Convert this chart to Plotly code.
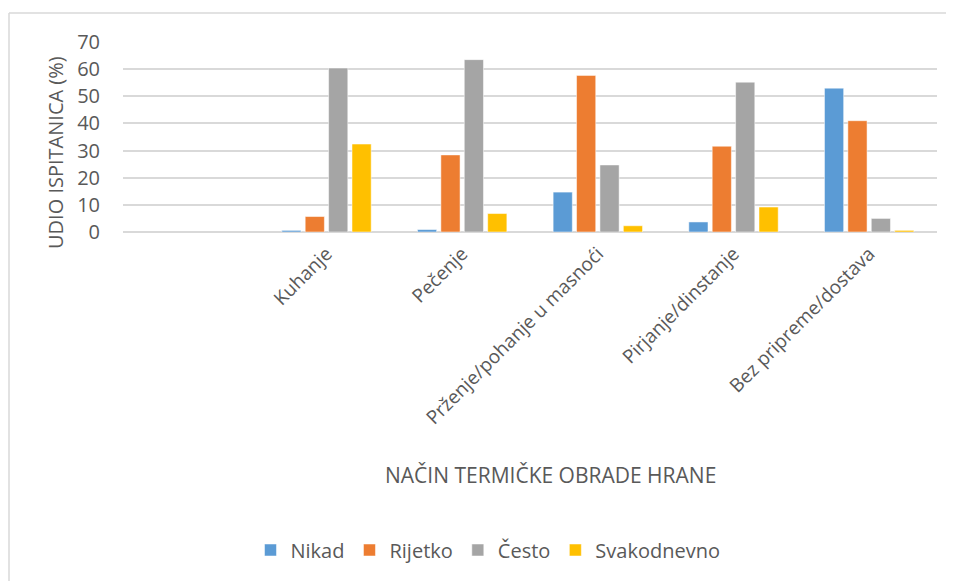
import plotly.graph_objects as go

categories = [" ", "Kuhanje", "Pečenje", "Prženje/pohanje u masnoći", "Pirjanje/dinstanje", "Bez pripreme/dostava"]
nikad = [None, 0.6, 0.9, 14.7, 3.7, 53.0]
rijetko = [None, 5.7, 28.4, 57.7, 31.6, 41.0]
cesto = [None, 60.4, 63.5, 24.7, 55.2, 5.0]
svakodnevno = [None, 32.4, 6.8, 2.3, 9.2, 0.6]
series_names = ["Nikad", "Rijetko", "Često", "Svakodnevno"]
colors = ["#5b9bd5", "#ed7d31", "#a5a5a5", "#ffc000"]
y_ticks = [0, 10, 20, 30, 40, 50, 60, 70]

FONT = "Open Sans"
TXT = "#595959"

fig = go.Figure()
for name, vals, col in zip(series_names, [nikad, rijetko, cesto, svakodnevno], colors):
    fig.add_trace(go.Bar(x=categories, y=vals, name=name, marker=dict(color=col, line=dict(color="white", width=0.5))))

OFF = 8  # page body offset
W, H = 954 - OFF, 581 - OFF
L, R, T, B = 123 - OFF, 17, 42 - OFF, 349
pw, ph = W - L - R, H - T - B

def px(x):
    return (x - OFF - L) / pw

def py(y):
    return (H - B - (y - OFF)) / ph

fig.update_layout(
    width=W, height=H,
    margin=dict(l=L, r=R, t=T, b=B, autoexpand=False),
    paper_bgcolor="white", plot_bgcolor="white",
    barmode="group", bargap=0.31, bargroupgap=0.18,
    font=dict(family=FONT, color=TXT),
    showlegend=True,
    legend=dict(orientation="h", x=px(488), y=py(550), xanchor="center", yanchor="middle",
                font=dict(size=20, color=TXT, family=FONT), itemwidth=30, traceorder="normal"),
    xaxis=dict(categoryorder="array", categoryarray=categories, range=[-0.5, 5.5],
               tickangle=-45, tickfont=dict(size=19, color=TXT, family=FONT),
               showgrid=False, showline=False, ticks="", ticklabelstandoff=6),
    yaxis=dict(range=[0, 70], tickvals=y_ticks, tickfont=dict(size=20, color=TXT, family=FONT),
               showgrid=True, gridcolor="#d9d9d9", gridwidth=1.5, zeroline=True,
               zerolinecolor="#d9d9d9", zerolinewidth=1.5, showline=False, ticks="",
               ticklabelstandoff=22),
    annotations=[
        dict(text="NAČIN TERMIČKE OBRADE HRANE", xref="paper", yref="paper", x=px(550), y=py(475),
             xanchor="center", yanchor="middle", showarrow=False, font=dict(size=21, color=TXT, family=FONT)),
        dict(text="UDIO ISPITANICA (%)", xref="paper", yref="paper", x=px(55), y=py(153),
             xanchor="center", yanchor="middle", textangle=-90, showarrow=False,
             font=dict(size=20, color=TXT, family=FONT)),
    ],
    shapes=[
        dict(type="line", xref="paper", yref="paper", x0=px(9), x1=px(9), y0=py(13), y1=py(600),
             line=dict(color="#d9d9d9", width=1.5)),
        dict(type="line", xref="paper", yref="paper", x0=px(9), x1=px(960), y0=py(13), y1=py(13),
             line=dict(color="#d9d9d9", width=1.5)),
    ],
)

fig.write_html("out.html")
